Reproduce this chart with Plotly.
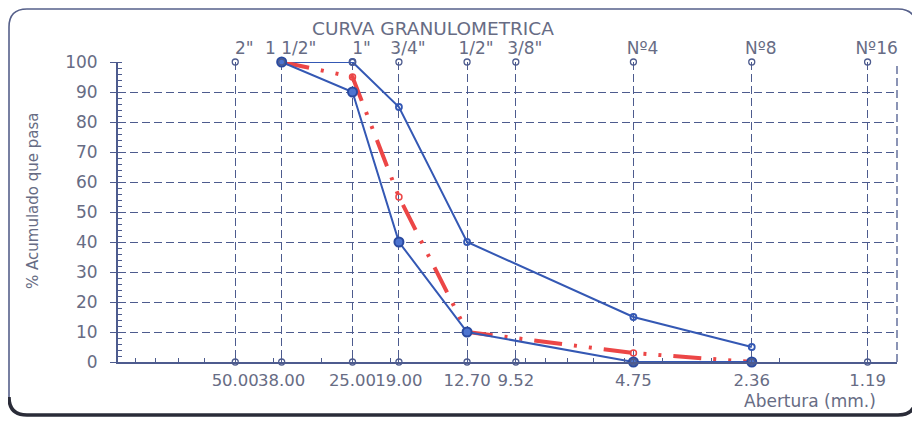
import plotly.graph_objects as go

# ---- data ----
sieve_names = ['2"', '1 1/2"', '1"', '3/4"', '1/2"', '3/8"', 'Nº4', 'Nº8', 'Nº16']
sieve_mm = [50.00, 38.00, 25.00, 19.00, 12.70, 9.52, 4.75, 2.36, 1.19]
sieve_mm_labels = ["50.00", "38.00", "25.00", "19.00", "12.70", "9.52", "4.75", "2.36", "1.19"]

curve_mm = [38.00, 25.00, 19.00, 12.70, 4.75, 2.36]
upper_limit = [100, 100, 85, 40, 15, 5]
lower_limit = [100, 90, 40, 10, 0, 0]
sample = [100, 95, 55, 10, 3, 0]

y_ticks = list(range(0, 101, 10))

# ---- styles ----
TXT = "#676c84"
GRID = "#4d5b8e"
BLUE = "#3458b4"
RED = "#ec4646"
FONT = "DejaVu Sans, Arial, sans-serif"

# page has an 8px body margin -> figure is 912x413 and offset by 8px
OFF = 8
W, H = 920 - OFF, 421 - OFF
PL, PR, PT, PB = 118, 897, 62, 362          # plot area in page pixels
L, R, T, B = PL - OFF, (W + OFF) - PR, PT - OFF, (H + OFF) - PB
PW, PH = PR - PL, PB - PT


def px(x):
    return (x - PL) / PW


def py(y):
    return (PB - y) / PH


fig = go.Figure()

# upper limit
fig.add_trace(go.Scatter(
    x=curve_mm, y=upper_limit, mode="lines+markers",
    line=dict(color=BLUE, width=2),
    marker=dict(symbol="circle-open", size=6, color=BLUE, line=dict(width=1.8)),
    cliponaxis=False, showlegend=False))

# sample
fig.add_trace(go.Scatter(
    x=curve_mm, y=sample, mode="lines+markers",
    line=dict(color=RED, width=4, dash="28px,12px,3px,12px,3px,12px"),
    marker=dict(symbol="circle-open", size=6, color=RED, line=dict(width=1.5)),
    cliponaxis=False, showlegend=False))

# lower limit
fig.add_trace(go.Scatter(
    x=curve_mm, y=lower_limit, mode="lines+markers",
    line=dict(color=BLUE, width=2),
    marker=dict(symbol="circle", size=9, color="#4d74d0", line=dict(width=2, color="#2a4aa0")),
    cliponaxis=False, showlegend=False))

# sieve circles at 0 and 100
fig.add_trace(go.Scatter(
    x=sieve_mm + sieve_mm, y=[0] * len(sieve_mm) + [100] * len(sieve_mm),
    xaxis="x2", mode="markers",
    marker=dict(symbol="circle-open", size=6, color=GRID, line=dict(width=1.3)),
    cliponaxis=False, showlegend=False, hoverinfo="skip"))

minor_x = [m * 10 ** e for e in (0, 1) for m in range(2, 10)]
bottom_vals = sieve_mm + minor_x
bottom_text = sieve_mm_labels + [""] * len(minor_x)

GD = "8px,4px"
fig.update_layout(
    width=W, height=H,
    margin=dict(l=L, r=R, t=T, b=B),
    paper_bgcolor="white", plot_bgcolor="white",
    font=dict(family=FONT, color=TXT, size=17),
    xaxis=dict(
        type="log", range=[2, 0], showgrid=False, zeroline=False,
        tickmode="array", tickvals=bottom_vals, ticktext=bottom_text,
        ticks="inside", ticklen=4, tickcolor=GRID, tickwidth=1.3,
        showline=True, linecolor=GRID, linewidth=2,
        tickangle=0, automargin=False, ticklabelstandoff=2,
        tickfont=dict(size=16.5, color=TXT),
    ),
    xaxis2=dict(
        type="log", range=[2, 0], overlaying="x", side="top",
        tickmode="array", tickvals=sieve_mm, ticktext=sieve_names,
        showgrid=True, gridcolor=GRID, griddash=GD, gridwidth=1.3,
        ticks="", showline=False, zeroline=False,
        tickangle=0, automargin=False,
        ticklabelshift=-9, ticklabelstandoff=4,
        tickfont=dict(size=17, color=TXT),
    ),
    yaxis=dict(
        range=[0, 100], tickmode="array", tickvals=y_ticks,
        showgrid=True, gridcolor=GRID, griddash=GD, gridwidth=1.3,
        zeroline=False, showline=True, linecolor=GRID, linewidth=2,
        ticks="outside", ticklen=6, tickcolor=GRID, tickwidth=1.3,
        ticklabelstandoff=9, automargin=False,
        minor=dict(dtick=2, ticks="inside", ticklen=4, tickcolor=GRID, showgrid=False),
        tickfont=dict(size=17, color=TXT),
    ),
)

# right border dashed
fig.add_shape(type="line", xref="paper", yref="paper", x0=1, x1=1, y0=0, y1=1,
              line=dict(color=GRID, width=1.3, dash=GD))

# title and axis labels
fig.add_annotation(text="CURVA GRANULOMETRICA", xref="paper", yref="paper",
                   x=px(433), y=py(29), showarrow=False,
                   font=dict(size=18.5, color=TXT), xanchor="center", yanchor="middle")
fig.add_annotation(text="Abertura (mm.)", xref="paper", yref="paper",
                   x=px(810), y=py(401), showarrow=False,
                   font=dict(size=17, color=TXT), xanchor="center", yanchor="middle")
fig.add_annotation(text="% Acumulado que pasa", xref="paper", yref="paper",
                   x=px(33), y=py(201), showarrow=False, textangle=-90,
                   font=dict(size=15, color=TXT), xanchor="center", yanchor="middle")

# rounded frame
x0, x1, y0, y1, r = 9, 916, 9, 415, 18


def pt(x, y):
    return f"{px(x):.5f},{py(y):.5f}"


path = (f"M {pt(x0 + r, y0)} L {pt(x1 - r, y0)} Q {pt(x1, y0)} {pt(x1, y0 + r)} "
        f"L {pt(x1, y1 - r)} Q {pt(x1, y1)} {pt(x1 - r, y1)} "
        f"L {pt(x0 + r, y1)} Q {pt(x0, y1)} {pt(x0, y1 - r)} "
        f"L {pt(x0, y0 + r)} Q {pt(x0, y0)} {pt(x0 + r, y0)} Z")
fig.add_shape(type="path", xref="paper", yref="paper", path=path,
              line=dict(color="#56608a", width=1.6), layer="below")
bottom = (f"M {pt(x0, y1 - r)} Q {pt(x0, y1)} {pt(x0 + r, y1)} "
          f"L {pt(x1 - r, y1)} Q {pt(x1, y1)} {pt(x1, y1 - r)}")
fig.add_shape(type="path", xref="paper", yref="paper", path=bottom,
              line=dict(color="#2a2c38", width=3.5), layer="below")

fig.write_html("out.html")
